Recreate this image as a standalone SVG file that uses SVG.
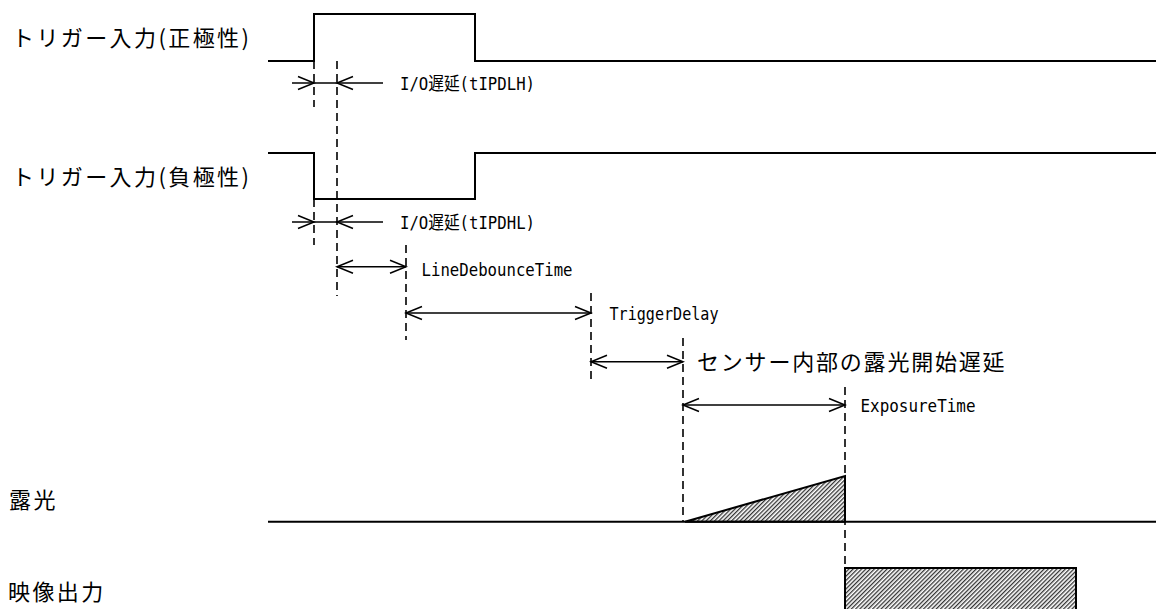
<svg xmlns="http://www.w3.org/2000/svg" width="1156" height="609" viewBox="0 0 1156 609">
<style>
.sig{fill:none;stroke:#000;stroke-width:2}
.dash{fill:none;stroke:#000;stroke-width:1.6;stroke-dasharray:8 5}
.arr{fill:none;stroke:#000;stroke-width:1.5;marker-end:url(#ah)}
.arr2{fill:none;stroke:#000;stroke-width:1.5;marker-start:url(#ah);marker-end:url(#ah)}
.lbl{font-family:"Noto Sans CJK JP","Noto Sans",sans-serif;font-size:22px;letter-spacing:2.4px;fill:#000}
.sm{font-family:"DejaVu Sans Mono","Noto Sans CJK JP",monospace;font-size:18px;fill:#000}
.big{font-family:"Noto Sans CJK JP","Noto Sans",sans-serif;font-size:22px;fill:#000}
.hat{fill:url(#hatch);stroke:#000;stroke-width:2}
</style>
<defs>
<pattern id="hatch" patternUnits="userSpaceOnUse" width="3" height="3" patternTransform="rotate(45)">
<rect width="3" height="3" fill="#fff"/>
<rect x="0" y="0" width="1.3" height="3" fill="#333"/>
</pattern>
<marker id="ah" markerUnits="userSpaceOnUse" markerWidth="20" markerHeight="16" viewBox="-18 -8 20 16" refX="0" refY="0" orient="auto-start-reverse" overflow="visible">
<path d="M-16,-6.5 L0,0 L-16,6.5" fill="none" stroke="#000" stroke-width="1.5"/>
</marker>
</defs>
<rect width="1156" height="609" fill="#fff"/>

<g id="trigger-pos">
<path class="sig" d="M268,61 H314 V14 H475 V61 H1156"/>
<text class="lbl" x="12" y="46">トリガー入力(正極性)</text>
</g>
<g id="trigger-neg">
<path class="sig" d="M268,153 H314 V199 H475 V153 H1156"/>
<text class="lbl" x="12" y="185">トリガー入力(負極性)</text>
</g>
<g id="exposure">
<path class="hat" d="M685,521.7 L845,476 V521.7 Z"/>
<path class="sig" d="M268,521.7 H1156"/>
<text class="lbl" x="9" y="508">露光</text>
</g>
<g id="video-out">
<rect class="hat" x="845" y="568" width="231" height="60"/>
<text class="lbl" x="8" y="600">映像出力</text>
</g>

<g id="connectors">
<line class="dash" x1="314" y1="61" x2="314" y2="107"/>
<line class="dash" x1="314" y1="199" x2="314" y2="245"/>
<line class="dash" x1="337" y1="61" x2="337" y2="296"/>
<line class="dash" x1="406" y1="245" x2="406" y2="340"/>
<line class="dash" x1="591" y1="293" x2="591" y2="383"/>
<line class="dash" x1="683" y1="338" x2="683" y2="521"/>
<line class="dash" x1="845" y1="387" x2="845" y2="568"/>

<line class="arr" x1="292" y1="83" x2="314" y2="83"/>
<line x1="314" y1="83" x2="337" y2="83" stroke="#000" stroke-width="1.5"/>
<line class="arr" x1="383" y1="83" x2="337" y2="83"/>

<line class="arr" x1="292" y1="222" x2="314" y2="222"/>
<line x1="314" y1="222" x2="337" y2="222" stroke="#000" stroke-width="1.5"/>
<line class="arr" x1="383" y1="222" x2="337" y2="222"/>

<line class="arr2" x1="337" y1="266.7" x2="406" y2="266.7"/>
<line class="arr2" x1="406" y1="313" x2="591" y2="313"/>
<line class="arr2" x1="591" y1="361.7" x2="683" y2="361.7"/>
<line class="arr2" x1="683" y1="405" x2="845" y2="405"/>
</g>

<g id="labels">
<text class="sm" x="400" y="90" textLength="135" lengthAdjust="spacingAndGlyphs">I/O遅延(tIPDLH)</text>
<text class="sm" x="400" y="229" textLength="135" lengthAdjust="spacingAndGlyphs">I/O遅延(tIPDHL)</text>
<text class="sm" x="421.5" y="276" textLength="151" lengthAdjust="spacingAndGlyphs">LineDebounceTime</text>
<text class="sm" x="609.5" y="320" textLength="109" lengthAdjust="spacingAndGlyphs">TriggerDelay</text>
<text class="sm" x="860.5" y="411.5" textLength="115" lengthAdjust="spacingAndGlyphs">ExposureTime</text>
<text class="big" x="697" y="370" letter-spacing="1.8">センサー内部の露光開始遅延</text>
</g>
</svg>
